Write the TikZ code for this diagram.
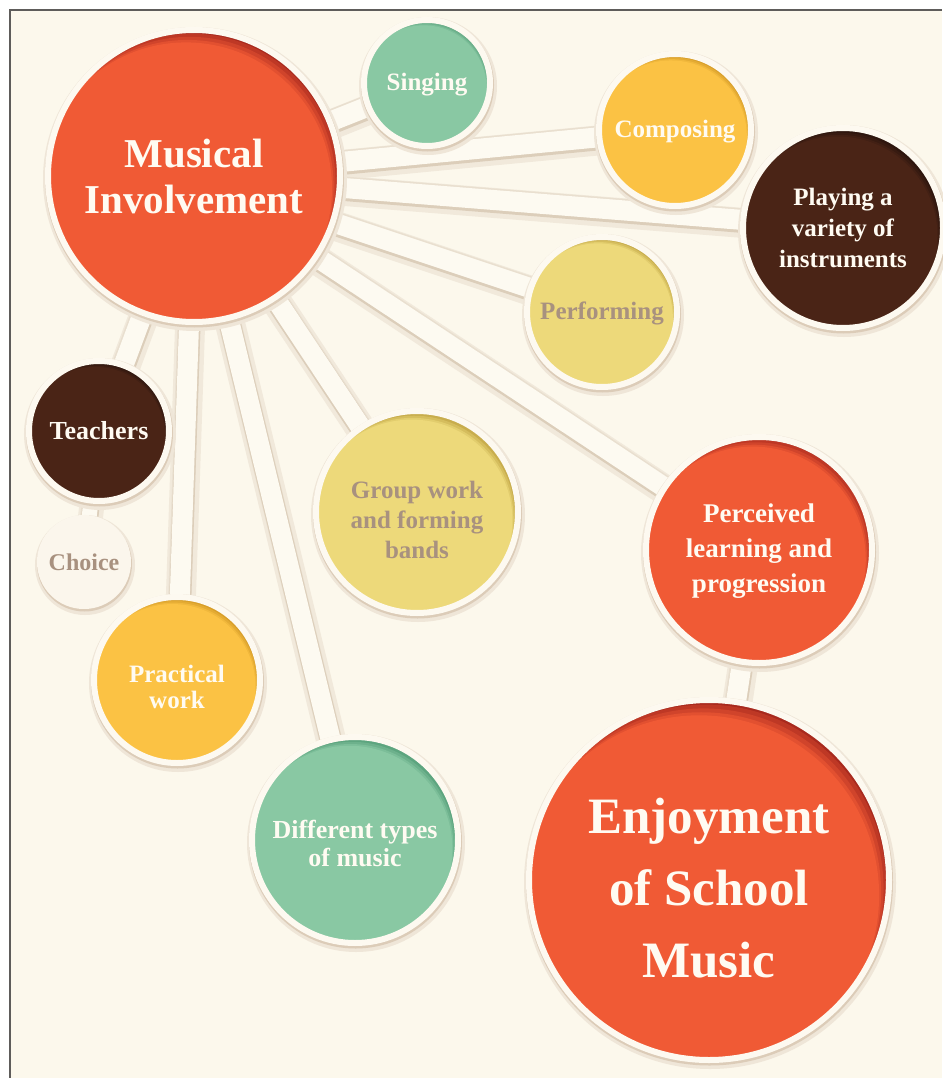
\documentclass[tikz,border=0pt]{standalone}
\usepackage{fontspec}
\setmainfont{Liberation Serif}
\definecolor{page}{HTML}{FCF8EC}
\definecolor{barC}{HTML}{FDFAF1}
\definecolor{ring}{HTML}{FDF9F0}
\definecolor{frame}{HTML}{5E5C5A}
\definecolor{bsA}{HTML}{F1E9DB}
\definecolor{bsB}{HTML}{DCCEBA}
\definecolor{bsC}{HTML}{E9DFCF}
\definecolor{shA}{HTML}{EFE6D8}
\definecolor{shB}{HTML}{DCCCB8}
\definecolor{orangeC}{HTML}{F05A35}
\definecolor{orangeD}{HTML}{A82A1E}
\definecolor{greenC}{HTML}{89C8A3}
\definecolor{greenD}{HTML}{4A9670}
\definecolor{goldC}{HTML}{FBC244}
\definecolor{goldD}{HTML}{C98E1E}
\definecolor{brownC}{HTML}{4A2416}
\definecolor{brownD}{HTML}{22100A}
\definecolor{paleC}{HTML}{EDD97A}
\definecolor{paleD}{HTML}{B89A3A}
\definecolor{choiceC}{HTML}{FBF6EC}
\definecolor{txtW}{HTML}{FFFBF2}
\definecolor{txtG}{HTML}{A8917F}
\pgfdeclarelayer{back}
\pgfdeclarelayer{bars}
\pgfsetlayers{back,bars,main}
\tikzset{
  bub/.style n args={4}{circle, minimum size={2*#1pt}, inner sep=0pt, outer sep=0pt,
    fill=#2, draw=ring, line width=6pt, align=center, text=#4,
    preaction={draw=shA, line width=12pt, transform canvas={xshift=1pt, yshift=-3pt}},
    preaction={draw=shB, line width=7pt, transform canvas={xshift=0.5pt, yshift=-2pt}},
    path picture={
      \fill[#3] (path picture bounding box.center) circle ({#1pt+6pt});
      \foreach \k/\m in {0.3/30,0.55/55,0.8/80,1/100}
        \fill[#2!\m!#3] ([xshift={-\k*0.055*#1pt}, yshift={-\k*0.085*#1pt}]path picture bounding box.center) circle ({#1pt});
    }},
  fsmall/.style={font=\bfseries\fontsize{25}{30}\selectfont},
}
\newcommand\linkbar[3]{%
  \draw[draw=bsA, line width={#3pt+10pt}] ([xshift=1pt,yshift=-3pt]#1.center) -- ([xshift=1pt,yshift=-3pt]#2.center);
  \draw[draw=bsC, line width={#3pt+3pt}] (#1.center) -- (#2.center);
  \draw[draw=bsB, line width={#3pt+2pt}] ([xshift=0.5pt,yshift=-2pt]#1.center) -- ([xshift=0.5pt,yshift=-2pt]#2.center);
  \draw[draw=barC, line width={#3pt}] (#1.center) -- (#2.center);
}
\newcommand\lift[1]{\rule{0pt}{#1pt}}
\begin{document}
\begin{tikzpicture}[x=1pt, y=-1pt]
\useasboundingbox (0,0) rectangle (942,1078);
\begin{pgfonlayer}{back}
\fill[white] (0,0) rectangle (942,1078);
\fill[page] (10,10) rectangle (942,1078);
\draw[frame, line width=2pt] (10,1078) -- (10,10) -- (942,10);
\end{pgfonlayer}

\node[bub={146}{orangeC}{orangeD}{txtW}, font=\bfseries\fontsize{41}{46}\selectfont] (mi) at (194,176) {Musical\\Involvement};
\node[bub={63}{greenC}{greenD}{txtW}, fsmall] (sing) at (427,83) {\lift{21}Singing};
\node[bub={76}{goldC}{goldD}{txtW}, fsmall] (comp) at (675,130) {\lift{21}Composing};
\node[bub={100}{brownC}{brownD}{txtW}, font=\bfseries\fontsize{25}{31}\selectfont] (play) at (843,228) {Playing a\\variety of\\instruments};
\node[bub={75}{paleC}{paleD}{txtG}, fsmall] (perf) at (602,312) {\lift{20}Performing};
\node[bub={70}{brownC}{brownD}{txtW}, font=\bfseries\fontsize{26}{30}\selectfont] (teach) at (99,431) {Teachers};
\node[bub={44}{choiceC}{choiceC}{txtG}, draw=choiceC, font=\bfseries\fontsize{24}{28}\selectfont] (choice) at (84,562) {Choice};
\node[bub={101}{paleC}{paleD}{txtG}, fsmall] (group) at (417,512) {\lift{34}Group work\\and forming\\bands};
\node[bub={113}{orangeC}{orangeD}{txtW}, font=\bfseries\fontsize{27}{35}\selectfont] (perc) at (759,550) {\lift{21}Perceived\\learning and\\progression};
\node[bub={83}{goldC}{goldD}{txtW}, font=\bfseries\fontsize{25}{26}\selectfont] (prac) at (177,680) {\lift{31}Practical\\work};
\node[bub={103}{greenC}{greenD}{txtW}, font=\bfseries\fontsize{26}{28}\selectfont] (diff) at (355,840) {\lift{26}Different types\\of music};
\node[bub={180}{orangeC}{orangeD}{txtW}, font=\bfseries\fontsize{51}{72}\selectfont] (enj) at (709,880) {\lift{52}Enjoyment\\of School\\Music};

\begin{pgfonlayer}{bars}
  \foreach \a/\b in {mi/sing, mi/comp, mi/play, mi/perf, mi/perc, mi/group, mi/diff, mi/prac, mi/teach, perc/enj}
    {\linkbar{\a}{\b}{20}}
  \linkbar{teach}{choice}{15}
\end{pgfonlayer}
\end{tikzpicture}
\end{document}
